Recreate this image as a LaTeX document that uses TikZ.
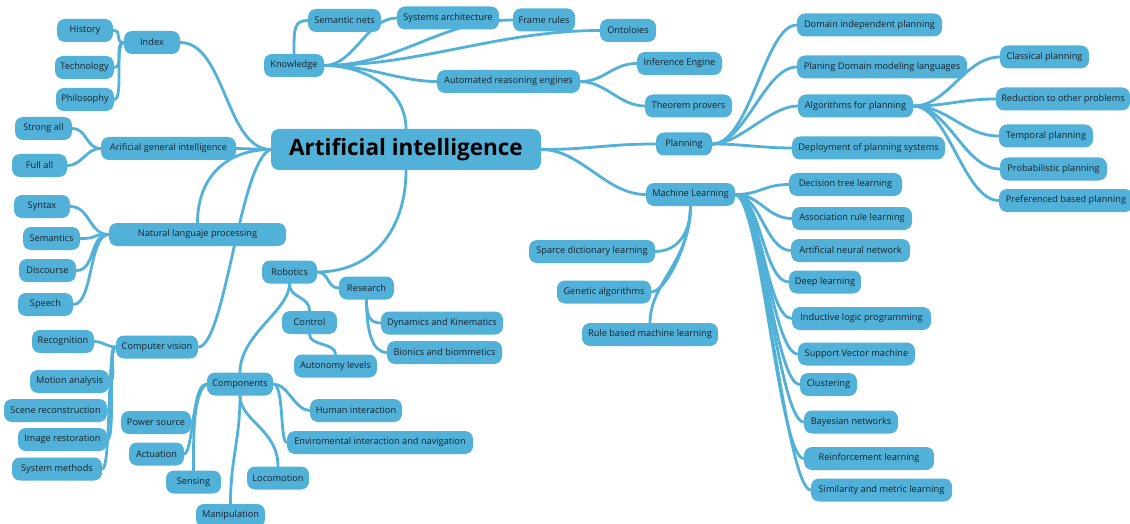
\documentclass[tikz,border=0pt]{standalone}
\usepackage{fontspec}
\setmainfont{Open Sans}
\usetikzlibrary{backgrounds}
\definecolor{mapblue}{HTML}{52B1D8}
\definecolor{maptext}{HTML}{16232C}
\tikzset{
  topic/.style={rectangle, rounded corners=8pt, fill=mapblue, text=maptext,
    font=\fontsize{9.2}{11}\selectfont, minimum height=23pt, inner sep=0pt},
  central/.style={topic, text=black, font=\fontsize{22.5}{26}\selectfont\bfseries,
    minimum height=41pt},
  link/.style={draw=mapblue, line width=2.8pt, line cap=round},
}
\begin{document}
\begin{tikzpicture}[x=1pt,y=-1pt]
\useasboundingbox (0,0) rectangle (1130,524);

% central topic
\node[central, minimum width=270pt] (main) at (406,149.5) {Artificial intelligence};

% left side
\node[topic, minimum width=56pt] (index) at (152,42.5) {Index};
\node[topic, minimum width=56pt] (history) at (85,30.5) {History};
\node[topic, minimum width=59pt] (technology) at (84.5,67.5) {Technology};
\node[topic, minimum width=58pt] (philosophy) at (85,99.5) {Philosophy};
\node[topic, minimum width=135pt] (agi) at (168.5,148.5) {Arificial general intelligence};
\node[topic, minimum width=57pt] (strong) at (43.5,128.5) {Strong all};
\node[topic, minimum width=55pt] (fullall) at (39.5,165.5) {Full all};
\node[topic, minimum width=177pt] (nlp) at (197.5,234.5) {Natural languaje processing};
\node[topic, minimum width=56pt] (syntax) at (42,206.5) {Syntax};
\node[topic, minimum width=57pt] (semantics) at (51.5,238.5) {Semantics};
\node[topic, minimum width=57pt] (discourse) at (47.5,270.5) {Discourse};
\node[topic, minimum width=55pt] (speech) at (45.5,304.5) {Speech};
\node[topic, minimum width=82pt] (cv) at (157,347) {Computer vision};
\node[topic, minimum width=62pt] (recognition) at (63,341.5) {Recognition};
\node[topic, minimum width=79pt] (motion) at (69.5,381.5) {Motion analysis};
\node[topic, minimum width=103pt] (scene) at (55.5,410.5) {Scene reconstruction};
\node[topic, minimum width=89pt] (restoration) at (62.5,439.5) {Image restoration};
\node[topic, minimum width=90pt] (sysmeth) at (57,469) {System methods};

% knowledge branch
\node[topic, minimum width=60pt] (knowledge) at (294,65.5) {Knowledge};
\node[topic, minimum width=73pt] (semnets) at (344.5,20.5) {Semantic nets};
\node[topic, minimum width=102pt] (sysarch) at (448,18) {Systems architecture};
\node[topic, minimum width=62pt] (frame) at (544,20) {Frame rules};
\node[topic, minimum width=56pt] (ontoloies) at (628,30.5) {Ontoloies};
\node[topic, minimum width=143pt] (are) at (508.5,81.5) {Automated reasoning engines};
\node[topic, minimum width=85pt] (inference) at (679.5,63.5) {Inference Engine};
\node[topic, minimum width=87pt] (theorem) at (688.5,106) {Theorem provers};

% planning branch
\node[topic, minimum width=56pt] (planning) at (684,144) {Planning};
\node[topic, minimum width=145pt] (dip) at (869.5,25) {Domain independent planning};
\node[topic, minimum width=170pt] (pdml) at (882,67) {Planing Domain modeling languages};
\node[topic, minimum width=115pt] (afp) at (855.5,106) {Algorithms for planning};
\node[topic, minimum width=153pt] (deploy) at (868.5,148) {Deployment of planning systems};
\node[topic, minimum width=89pt] (classical) at (1044.5,57) {Classical planning};
\node[topic, minimum width=134pt] (reduction) at (1063,99) {Reduction to other problems};
\node[topic, minimum width=94pt] (temporal) at (1046,136) {Temporal planning};
\node[topic, minimum width=107pt] (probabilistic) at (1053.5,169) {Probabilistic planning};
\node[topic, minimum width=134pt] (preferenced) at (1066,200.5) {Preferenced based planning};

% machine learning branch
\node[topic, minimum width=89pt] (ml) at (690.5,194.5) {Machine Learning};
\node[topic, minimum width=113pt] (decision) at (845.5,184.5) {Decision tree learning};
\node[topic, minimum width=120pt] (association) at (852,218.5) {Association rule learning};
\node[topic, minimum width=119pt] (ann) at (850.5,250.5) {Artificial neural network};
\node[topic, minimum width=72pt] (deep) at (825,282) {Deep learning};
\node[topic, minimum width=139pt] (ilp) at (861.5,318.5) {Inductive logic programming};
\node[topic, minimum width=117pt] (svm) at (856.5,354) {Support Vector machine};
\node[topic, minimum width=57pt] (clustering) at (828.5,384.5) {Clustering};
\node[topic, minimum width=94pt] (bayes) at (851,422) {Bayesian networks};
\node[topic, minimum width=130pt] (reinforcement) at (869,458.5) {Reinforcement learning};
\node[topic, minimum width=141pt] (similarity) at (881.5,490) {Similarity and metric learning};
\node[topic, minimum width=126pt] (sparce) at (592,251.5) {Sparce dictionary learning};
\node[topic, minimum width=94pt] (genetic) at (604,292) {Genetic algorithms};
\node[topic, minimum width=136pt] (rulebased) at (650,334.5) {Rule based machine learning};

% robotics branch
\node[topic, minimum width=55pt] (robotics) at (289.5,272) {Robotics};
\node[topic, minimum width=55pt] (research) at (366.5,288) {Research};
\node[topic, minimum width=55pt] (control) at (309.5,322.5) {Control};
\node[topic, minimum width=83pt] (autonomy) at (335.5,366) {Autonomy levels};
\node[topic, minimum width=122pt] (dynamics) at (442,323) {Dynamics and Kinematics};
\node[topic, minimum width=115pt] (bionics) at (444.5,352.5) {Bionics and biommetics};
\node[topic, minimum width=66pt] (components) at (240,384) {Components};
\node[topic, minimum width=92pt] (human) at (356,410.5) {Human interaction};
\node[topic, minimum width=186pt] (enviro) at (380,442.5) {Enviromental interaction and navigation};
\node[topic, minimum width=70pt] (power) at (156,422.5) {Power source};
\node[topic, minimum width=55pt] (actuation) at (156.5,454) {Actuation};
\node[topic, minimum width=55pt] (sensing) at (193.5,482) {Sensing};
\node[topic, minimum width=62pt] (locomotion) at (278,478) {Locomotion};
\node[topic, minimum width=69pt] (manipulation) at (230.5,515.5) {Manipulation};

\begin{pgfonlayer}{background}
\fill[white] (0,0) rectangle (1130,524);

% from the central topic
\draw[link] (main.west) .. controls +(-45,0) and +(45,0) .. (index.east);
\draw[link] (main.west) -- (agi.east);
\draw[link] (main.west) .. controls +(-45,0) and +(0,-45) .. (nlp.north);
\draw[link] (main.west) .. controls +(-31,10) and +(27,0) .. (cv.east);
\draw[link] (main.south) .. controls +(0,60) and +(55,0) .. (robotics.east);
\draw[link] (main.north) .. controls +(0,-40) and +(40,0) .. (knowledge.east);
\draw[link] (main.east) .. controls +(50,0) and +(-50,0) .. (planning.west);
\draw[link] (main.east) .. controls +(40,0) and +(-40,0) .. (ml.west);

% index
\foreach \c in {history,technology,philosophy}
  \draw[link] (index.west) .. controls +(-10,0) and +(10,0) .. (\c.east);
% general intelligence
\foreach \c in {strong,fullall}
  \draw[link] (agi.west) .. controls +(-15,0) and +(15,0) .. (\c.east);
% language processing
\foreach \c in {syntax,semantics,discourse,speech}
  \draw[link] (nlp.west) .. controls +(-20,0) and +(20,0) .. (\c.east);
% computer vision
\foreach \c in {recognition,motion,scene,restoration,sysmeth}
  \draw[link] (cv.west) .. controls +(-9,0) and +(9,0) .. (\c.east);

% knowledge
\draw[link] (knowledge.north) .. controls +(0,-25) and +(-14,0) .. (semnets.west);
\draw[link] (knowledge.east) .. controls +(30,0) and +(-30,0) .. (sysarch.west);
\draw[link] (knowledge.east) .. controls +(76,0) and +(-73,0) .. (frame.west);
\draw[link] (knowledge.east) .. controls +(96,0) and +(-100,0) .. (ontoloies.west);
\draw[link] (knowledge.east) .. controls +(46,0) and +(-37,0) .. (are.west);
\draw[link] (are.east) .. controls +(25,0) and +(-25,0) .. (inference.west);
\draw[link] (are.east) .. controls +(25,0) and +(-25,0) .. (theorem.west);

% planning
\draw[link] (planning.east) .. controls +(38,0) and +(-32,0) .. (dip.west);
\draw[link] (planning.east) .. controls +(33,0) and +(-32,0) .. (pdml.west);
\draw[link] (planning.east) .. controls +(28,0) and +(-28,0) .. (afp.west);
\draw[link] (planning.east) .. controls +(30,0) and +(-30,0) .. (deploy.west);
\foreach \c in {classical,reduction,temporal,probabilistic,preferenced}
  \draw[link] (afp.east) .. controls +(35,0) and +(-35,0) .. (\c.west);

% machine learning
\foreach \c in {decision,association,ann,deep,ilp,svm,clustering,bayes,reinforcement,similarity}
  \draw[link] (ml.east) .. controls +(25,0) and +(-25,0) .. (\c.west);
\draw[link] (ml.south) .. controls +(0,30) and +(20,0) .. (sparce.east);
\draw[link] (ml.south) .. controls +(0,35) and +(15,0) .. (genetic.east);
\draw[link] (ml.south) .. controls +(0,55) and +(0,-40) .. (rulebased.north);

% robotics
\draw[link] (robotics.east) .. controls +(12,0) and +(-12,0) .. (research.west);
\draw[link] (robotics.south) .. controls +(0,15) and +(0,-15) .. (control.north);
\draw[link] (control.south) .. controls +(0,12) and +(0,-12) .. (autonomy.north);
\draw[link] (robotics.south) .. controls +(0,27) and +(0,-38) .. (components.north);
\draw[link] (research.south) .. controls +(0,15) and +(-12,0) .. (dynamics.west);
\draw[link] (research.south) .. controls +(0,30) and +(-15,0) .. (bionics.west);

% components
\draw[link] (components.east) .. controls +(15,0) and +(-15,0) .. (human.west);
\draw[link] (components.east) .. controls +(11,0) and +(-7,0) .. (enviro.west);
\draw[link] (components.south) .. controls +(0,25) and +(0,-37) .. (locomotion.north);
\draw[link] (components.south) .. controls +(0,45) and +(0,-45) .. (manipulation.north);
\draw[link] (components.west) .. controls +(-12,0) and +(4,0) .. (power.east);
\draw[link] (components.west) .. controls +(-14,6) and +(8,0) .. (actuation.east);
\draw[link] (components.west) .. controls +(-14,6) and +(0,-30) .. (sensing.north);
\end{pgfonlayer}
\end{tikzpicture}
\end{document}
